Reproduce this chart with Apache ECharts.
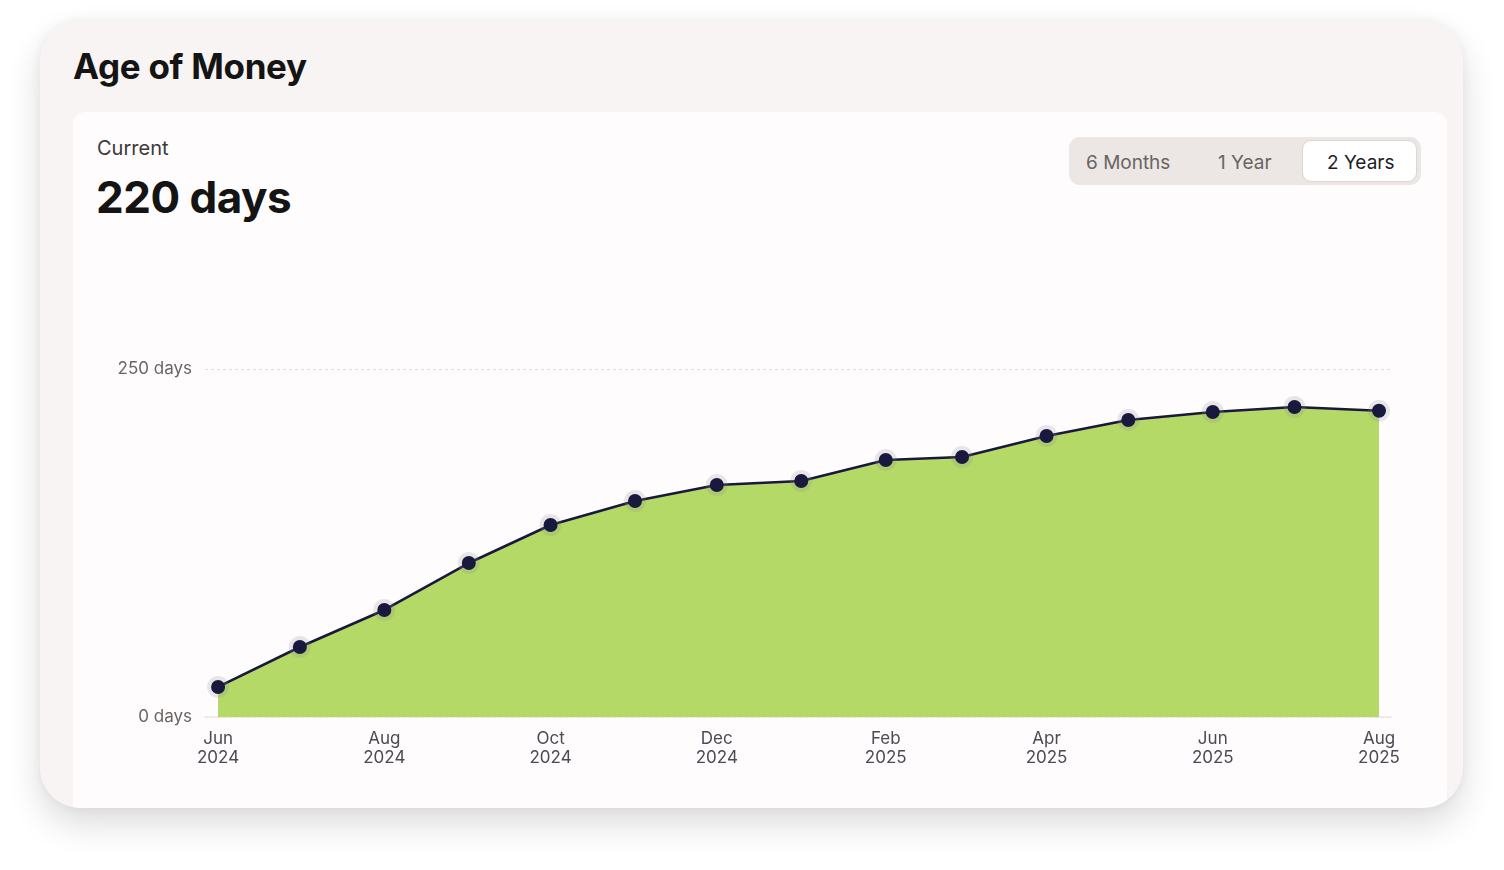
<!DOCTYPE html>
<html>
<head>
<meta charset="utf-8">
<script src="https://cdn.jsdelivr.net/npm/echarts@6/dist/echarts.min.js"></script>
<style>
  html, body { margin:0; padding:0; width:1504px; height:870px; background:#ffffff; overflow:hidden; font-family: Inter, "Noto Sans", sans-serif; }
  .card { position:absolute; left:40px; top:20px; width:1423px; height:788px; background:#f8f4f3; border-radius:40px; box-shadow: 0 16px 34px rgba(0,0,0,0.14), 0 0 10px rgba(0,0,0,0.05); overflow:hidden; }
  .title { position:absolute; left:33px; top:25px; font-size:35px; font-weight:700; color:#141414; letter-spacing:-0.3px; }
  .panel { position:absolute; left:33px; top:92px; width:1374px; height:720px; background:#fefcfc; border-radius:12px; }
  .cur { position:absolute; left:24px; top:24px; font-size:20px; color:#3d3838; }
  .big { position:absolute; left:23px; top:58px; font-size:44px; font-weight:700; color:#141414; letter-spacing:-0.5px; }
  .seg { position:absolute; left:996px; top:25px; width:352px; height:48px; background:#ece7e4; border-radius:11px; }
  .seg span { position:absolute; top:2px; height:48px; line-height:48px; font-size:19px; color:#6a6462; }
  .seg .act { position:absolute; left:233px; top:3px; width:115px; height:42px; background:#ffffff; border:1px solid #dcd6d2; border-radius:9px; box-sizing:border-box; }
  #chart { position:absolute; left:0; top:0; width:1504px; height:870px; }
</style>
</head>
<body>
<div class="card">
  <div class="title">Age of Money</div>
  <div class="panel">
    <div class="cur">Current</div>
    <div class="big">220 days</div>
    <div class="seg">
      <div class="act"></div>
      <span style="left:17px;">6 Months</span>
      <span style="left:149px;">1 Year</span>
      <span style="left:258px;color:#1c1c28;">2 Years</span>
    </div>
  </div>
</div>
<div id="chart"></div>
<script>
const months = ['2024-06-01','2024-07-01','2024-08-01','2024-09-01','2024-10-01','2024-11-01','2024-12-01','2025-01-01','2025-02-01','2025-03-01','2025-04-01','2025-05-01','2025-06-01','2025-07-01','2025-08-01'];
const ageDays = [21.6, 50.3, 76.9, 110.6, 137.9, 155.2, 166.7, 169.5, 184.6, 186.8, 201.9, 213.4, 219.1, 222.7, 220];
const tickMonths = ['2024-06-01','2024-08-01','2024-10-01','2024-12-01','2025-02-01','2025-04-01','2025-06-01','2025-08-01'];
const yTicks = [0, 250];
const monthNames = ['Jan','Feb','Mar','Apr','May','Jun','Jul','Aug','Sep','Oct','Nov','Dec'];

const toTs = s => { const p = s.split('-').map(Number); return Date.UTC(p[0], p[1]-1, p[2]); };
const DAY = 86400000;
const points = months.map((m,i) => [toTs(m), ageDays[i]]);
const chart = echarts.init(document.getElementById('chart'), null, {renderer:'canvas'});
chart.setOption({
  animation:false,
  grid:{ left:205, right:113, top:369, bottom:153, containLabel:false },
  xAxis:{
    type:'value',
    min: toTs(months[0]) - 4.8*DAY,
    max: toTs(months[months.length-1]) + 4.4*DAY,
    axisLine:{ show:true, lineStyle:{ color:'#ebe7e5', width:1.5 } },
    axisTick:{ show:false },
    splitLine:{ show:false },
    axisLabel:{
      customValues: tickMonths.map(toTs),
      formatter: v => { const d = new Date(v); return monthNames[d.getUTCMonth()] + '\n' + d.getUTCFullYear(); },
      color:'#4b4a55', fontSize:17, lineHeight:19, margin:12,
      fontFamily:'Inter, "Noto Sans", sans-serif'
    }
  },
  yAxis:{
    type:'value', min:yTicks[0], max:yTicks[1], interval:250,
    axisLine:{ show:false }, axisTick:{ show:false },
    splitLine:{ show:true, lineStyle:{ color:'#ead6d6', type:[3,3], width:1 } },
    axisLabel:{ formatter: v => v + ' days', color:'#6b6462', fontSize:17, margin:13, fontFamily:'Inter, "Noto Sans", sans-serif' }
  },
  series:[{
    type:'line',
    data: points,
    showSymbol:false,
    lineStyle:{ color:'#19193d', width:2.6 },
    areaStyle:{ color:'#b4d966', opacity:1 },
    z:2
  },{
    type:'scatter',
    data: points,
    symbol:'circle', symbolSize:22,
    itemStyle:{ color:'#8f8d9a', opacity:0.2 },
    silent:true,
    z:3
  },{
    type:'scatter',
    data: points,
    symbol:'circle', symbolSize:14,
    itemStyle:{ color:'#19193d', opacity:1 },
    z:4
  }]
});
</script>
</body>
</html>
